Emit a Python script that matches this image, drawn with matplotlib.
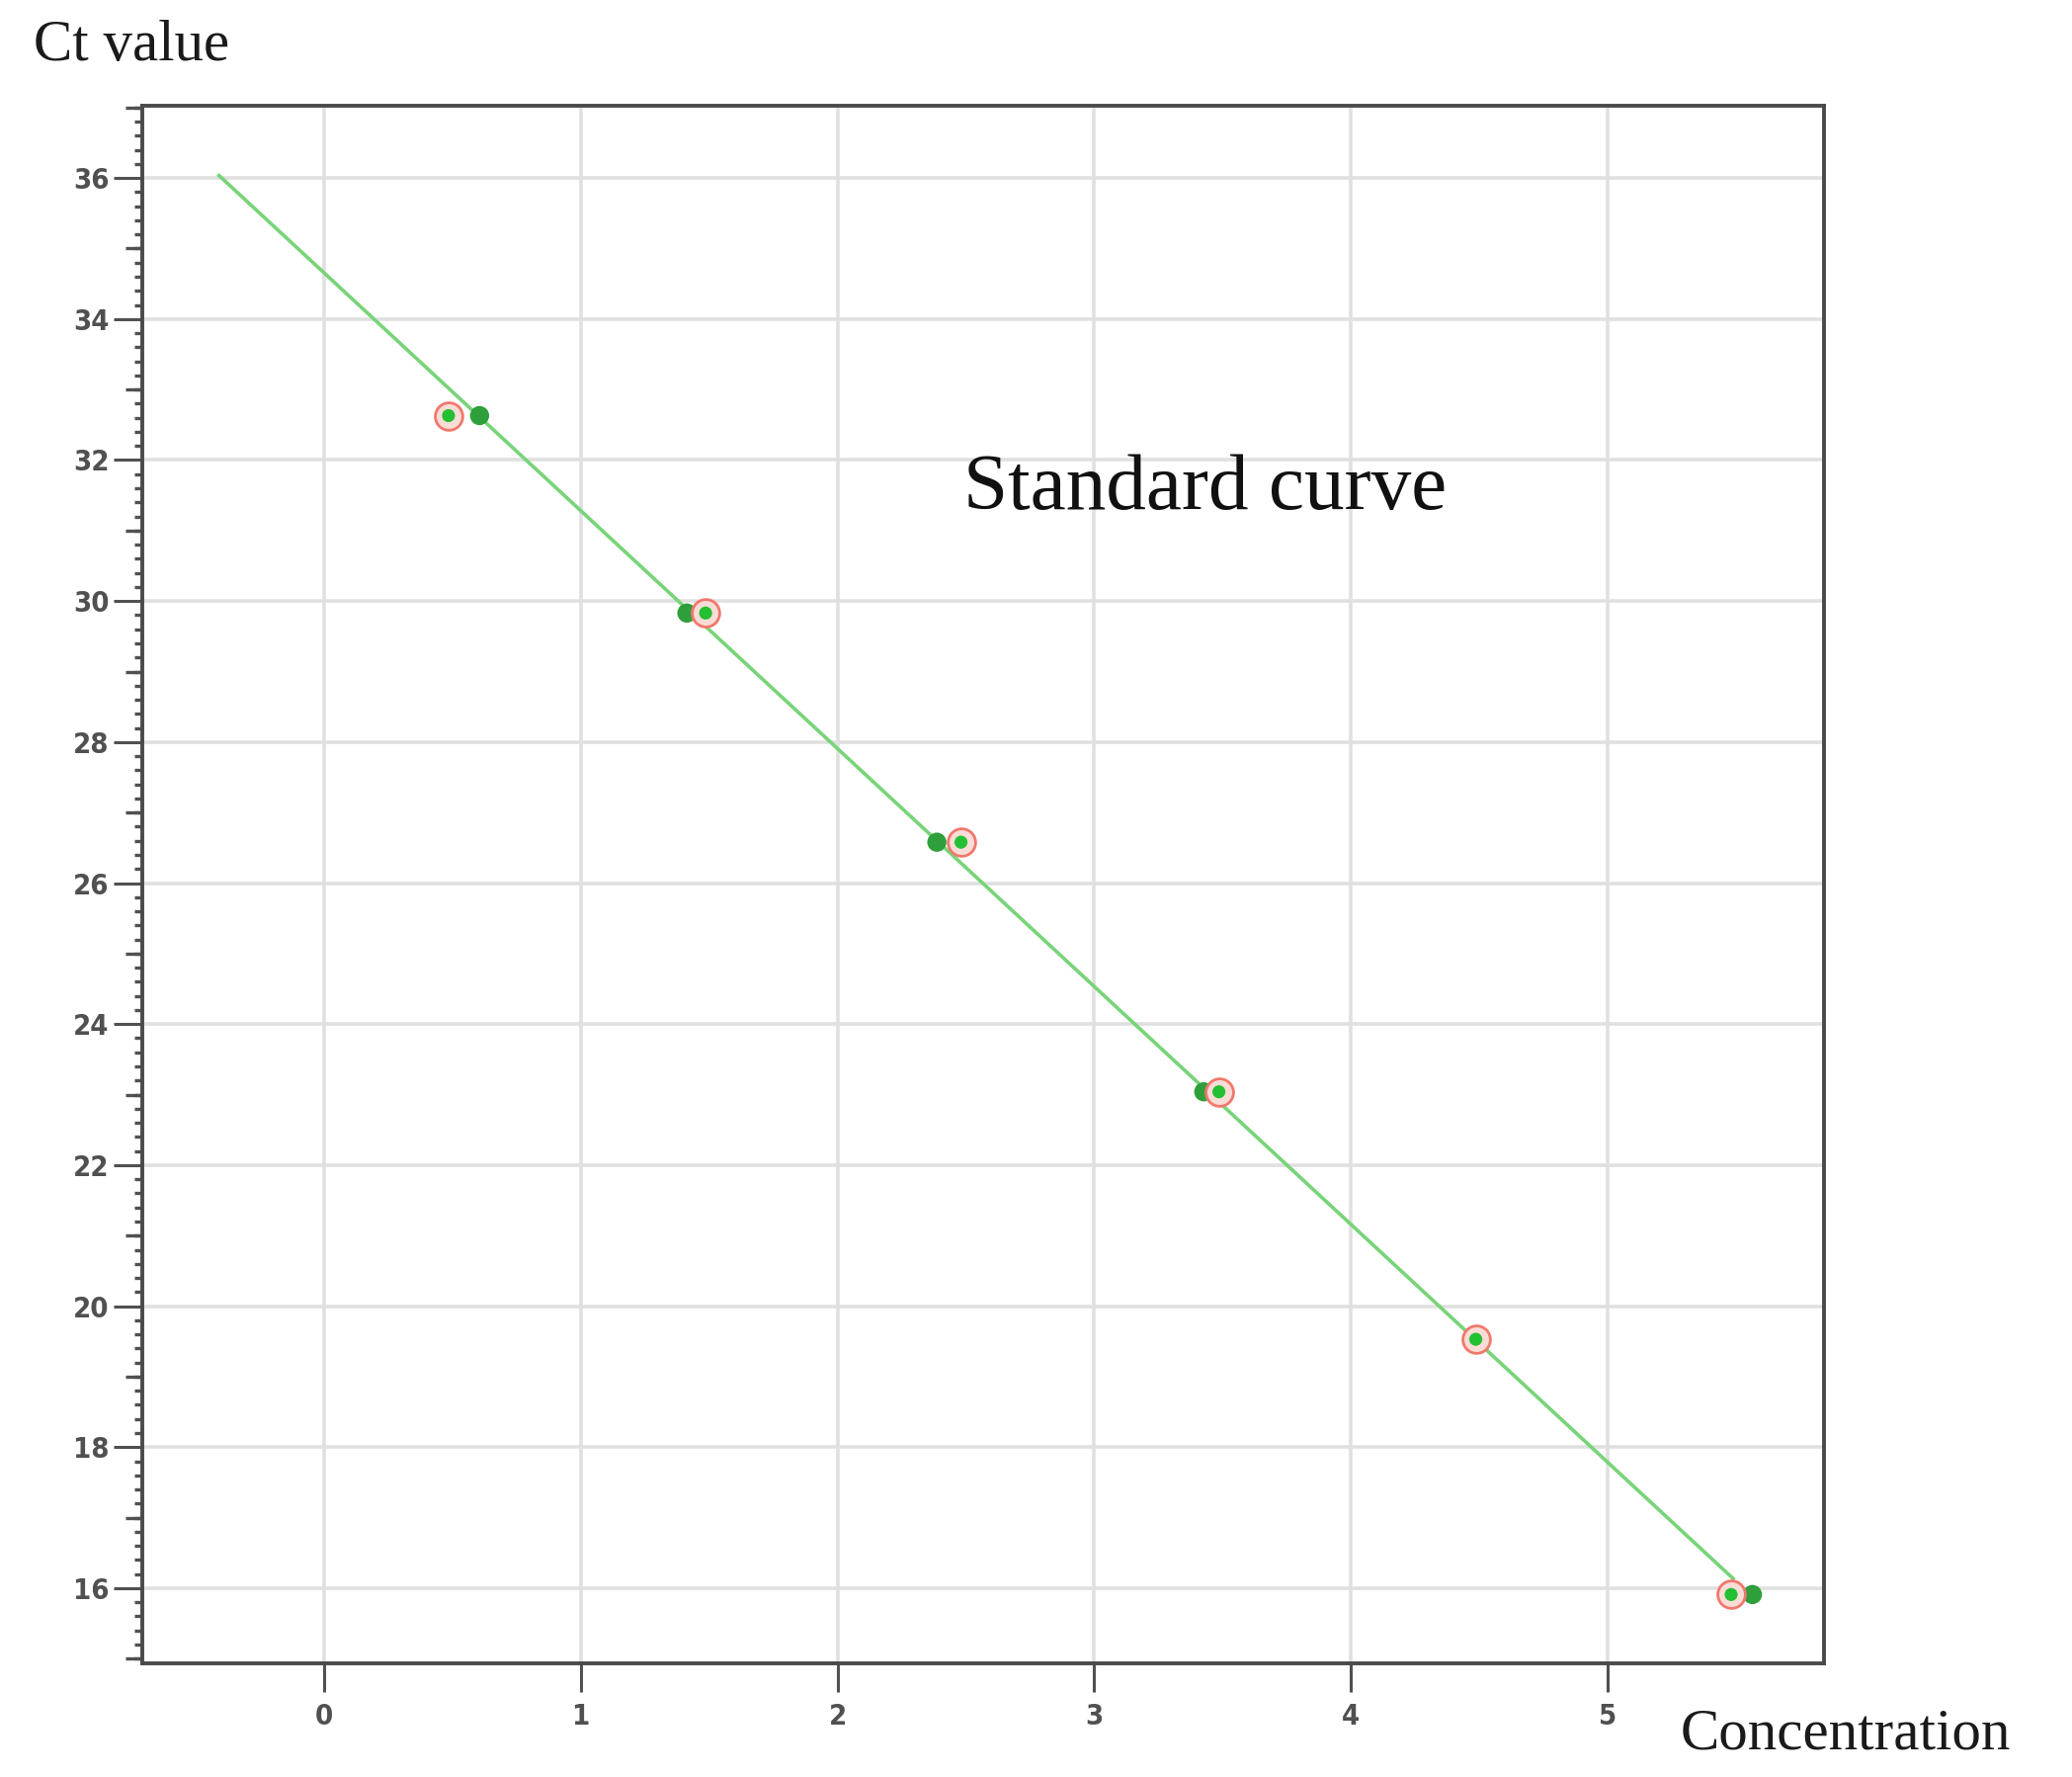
import numpy as np
import matplotlib
matplotlib.use("Agg")
import matplotlib.pyplot as plt
from matplotlib.ticker import MultipleLocator, NullLocator

# ---- data ----
std_x = [0.484, 1.486, 2.481, 3.486, 4.487, 5.482]      # standards (red ring)
std_ct = [32.63, 29.83, 26.58, 23.04, 19.53, 15.91]
smp_x = [0.605, 1.413, 2.387, 3.427, 4.487, 5.565]      # samples (dark green)
smp_ct = [32.63, 29.83, 26.58, 23.04, 19.53, 15.91]
fit_range = [-0.41, 5.49]
x_ticks = [0, 1, 2, 3, 4, 5]
y_ticks = [16, 18, 20, 22, 24, 26, 28, 30, 32, 34, 36]

DPI = 100
fig = plt.figure(figsize=(20.97, 17.98), dpi=DPI)
ax = fig.add_axes([0.0687, 0.0640, 0.8802 - 0.0687, 0.9403 - 0.0640])

ax.set_xlim(-0.709, 5.843)
ax.set_ylim(14.935, 37.02)

# grid
ax.set_axisbelow(True)
ax.grid(True, color="#e0e0e0", linewidth=2.6)

# regression line from the standards
slope, intercept = np.polyfit(std_x, std_ct, 1)
lx = np.array(fit_range)
ax.plot(lx, slope * lx + intercept, color="#78d478", linewidth=2.6, zorder=2)

# sample points
ax.scatter(smp_x, smp_ct, s=14**2, color="#2f9f3c", edgecolors="none", zorder=3)
# standard points: red ring, pale halo, green centre
ax.scatter(std_x, std_ct, s=20**2, facecolor="#fadcd6", edgecolors="#f0786c",
           linewidths=2.0, zorder=4)
ax.scatter(std_x, std_ct, s=9.5**2, color="#22c032", edgecolors="none", zorder=5)

# ticks
ax.set_xticks(x_ticks)
ax.set_yticks(y_ticks)
ax.yaxis.set_minor_locator(MultipleLocator(0.2))
ax.xaxis.set_minor_locator(NullLocator())
lab_font = dict(family="DejaVu Sans", stretch="condensed", weight="bold", size=21)
ax.set_xticklabels([str(v) for v in x_ticks], fontdict=lab_font, color="#505050")
ax.set_yticklabels([str(v) for v in y_ticks], fontdict=lab_font, color="#505050")
ax.tick_params(axis="x", which="major", direction="out", length=21, width=2.2,
               color="#505050", pad=8)
ax.tick_params(axis="y", which="major", direction="out", length=21, width=2.2,
               color="#505050", pad=3)
ax.tick_params(axis="y", which="minor", direction="out", length=6, width=2.4,
               color="#505050")

# medium ticks at odd integers
sec = ax.secondary_yaxis("left")
sec.set_yticks([15, 17, 19, 21, 23, 25, 27, 29, 31, 33, 35, 37])
sec.yaxis.set_minor_locator(NullLocator())
sec.set_yticklabels([])
sec.tick_params(axis="y", which="major", direction="out", length=12, width=2.4,
                color="#505050")
sec.spines["left"].set_visible(False)

for s in ax.spines.values():
    s.set_color("#4a4a4a")
    s.set_linewidth(2.8)

serif = ["Liberation Serif", "DejaVu Serif"]
fig.text(34 / 2097, 1 - 61 / 1798, "Ct value", family=serif, size=42.5,
         color="#1a1a1a", ha="left", va="baseline")
fig.text(1701 / 2097, 1 - 1769 / 1798, "Concentration", family=serif, size=42.5,
         color="#1a1a1a", ha="left", va="baseline")
ax.text(2.49, 31.30, "Standard curve", family=serif, size=58.5, color="#111111",
        ha="left", va="baseline", zorder=6)

fig.savefig("out.png", dpi=DPI)
